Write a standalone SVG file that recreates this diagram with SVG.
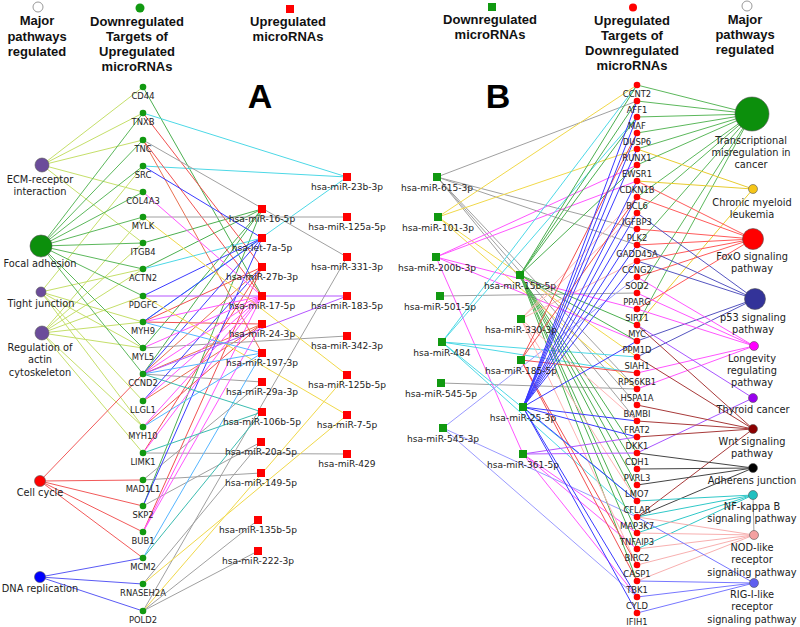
<svg xmlns="http://www.w3.org/2000/svg" width="800" height="627" viewBox="0 0 800 627">
<style>
.e{fill:none;stroke-width:1}
.yg{stroke:#c5df6a}.fa{stroke:#5cb85c}.cc{stroke:#f25a5a}.dn{stroke:#5a5af5}
.gr{stroke:#4caf50}.cy{stroke:#4dd8e6}.rd{stroke:#f05050}.gy{stroke:#a0a0a0}.bl{stroke:#3b3bff}.mg{stroke:#ff55ff}.ye{stroke:#f0d84a}.or{stroke:#e87050}.vi{stroke:#b455ff}.lb{stroke:#55b5ff}.tl{stroke:#3cbcb0}.pk{stroke:#ffb4b4}.lp{stroke:#9a9aff}
.tm{stroke:#5cb85c}.cml{stroke:#e8cc30}.fox{stroke:#ff5a5a}.p53{stroke:#5555c0}.lon{stroke:#ff55ff}.thy{stroke:#a855ff}.wnt{stroke:#a83a3a}.aj{stroke:#444}.nf{stroke:#30c8c8}.nod{stroke:#f8b0b0}.rig{stroke:#7777ff}
.h{font-family:"Liberation Sans",Arial,sans-serif;font-weight:bold;font-size:13px;fill:#111;text-anchor:middle}
.big{font-family:"Liberation Sans",Arial,sans-serif;font-weight:bold;font-size:34px;fill:#000;text-anchor:middle}
.pl{font-family:"DejaVu Sans",sans-serif;font-size:9.8px;fill:#222;text-anchor:middle}
.gl{font-family:"DejaVu Sans",sans-serif;font-size:8.4px;fill:#222;text-anchor:middle}
.ml{font-family:"DejaVu Sans",sans-serif;font-size:9.1px;fill:#222;text-anchor:middle}
.gd{fill:#119911}.rdd{fill:#ff0000}
.pc{stroke:#555;stroke-width:0.6}
</style>
<rect width="800" height="627" fill="#fff"/>
<g id="connectors">
<path class="e yg" d="M42 165L143 87M42 165L143 113M42 165L143 140M42 165L143 192M42 165L143 243M41 292L143 166M41 292L143 269M41 292L143 322M41 292L143 348M41 292L143 401M41 292L143 427M42 333L143 217M42 333L143 243M42 333L143 269M42 333L143 296M42 333L143 322M42 333L143 348M42 333L143 427M42 333L143 453"/>
<path class="e fa" d="M41 246L143 113M41 246L143 140M41 246L143 166M41 246L143 192M41 246L143 217M41 246L143 243M41 246L143 269M41 246L143 296M41 246L143 348M41 246L143 374"/>
<path class="e cc" d="M40 481L143 374M40 481L143 480M40 481L143 506M40 481L143 532M40 481L143 558"/>
<path class="e dn" d="M40 577L143 558M40 577L143 584M40 577L143 611"/>
<path class="e gr" d="M143 87L262 296M143 243L262 209M143 269L262 209M143 348L262 209M143 374L262 209M143 506L262 209"/>
<path class="e cy" d="M143 113L347 177M143 166L347 177M143 269L262 238M143 322L347 177"/>
<path class="e rd" d="M143 113L262 267M143 140L262 296M143 322L262 267M143 322L262 324M143 427L262 324M143 453L262 267M143 532L262 267"/>
<path class="e or" d="M143 140L262 353M143 374L262 267M143 374L262 324M143 401L262 324"/>
<path class="e gy" d="M143 140L347 257M143 217L347 217M143 348L347 336M143 374L262 382M143 453L347 454M143 480L261 473M143 480L262 382M143 506L261 442M143 584L261 442M143 611L258 520M143 611L258 551M143 611L347 257"/>
<path class="e bl" d="M143 166L262 238M143 296L262 238M143 322L262 238M143 374L262 238M143 401L262 267M143 506L262 238"/>
<path class="e mg" d="M143 192L262 296M143 322L262 296M143 348L262 296M143 374L262 296M143 401L262 296M143 427L262 296M143 453L262 296M143 532L262 296M143 532L262 324"/>
<path class="e ye" d="M143 217L347 375M143 296L347 415M143 584L347 415M143 611L347 375"/>
<path class="e vi" d="M143 296L347 296M143 374L347 296"/>
<path class="e lb" d="M143 322L262 353M143 374L262 353M143 427L262 353M143 558L262 353"/>
<path class="e tl" d="M143 374L262 412M143 453L262 412M143 558L262 412"/>
<path class="e gy" d="M437 177L637 101M437 177L637 229M437 177L637 245M437 177L637 389M437 177L637 405M437 177L637 421M440 296L637 293M441 383L637 389"/>
<path class="e ye" d="M438 217L637 85M438 217L637 149M438 217L637 357M438 217L637 389"/>
<path class="e mg" d="M436 257L637 165M436 257L637 181M436 257L637 309M436 257L637 341M436 257L523 454M523 454L637 533M523 454L637 597M523 454L637 549"/>
<path class="e cy" d="M442 342L637 85M442 342L637 117M442 342L637 357M442 342L637 373M442 342L637 501M442 342L637 517"/>
<path class="e lp" d="M443 428L637 277M443 428L637 517M443 428L637 597"/>
<path class="e gr" d="M520 275L637 85M520 275L637 101M520 275L637 117M520 275L637 165M520 275L637 325M520 275L637 341M520 275L637 453M520 275L637 469M520 275L637 485M520 275L637 501M520 275L637 533M520 275L637 549M520 275L637 581"/>
<path class="e pk" d="M521 319L637 197M521 319L637 213M521 319L637 261M521 319L637 421M521 319L637 501M521 319L637 565"/>
<path class="e rd" d="M521 360L637 133M521 360L637 197M521 360L637 373M521 360L637 565M521 360L637 581"/>
<path class="e bl" d="M523 407L637 101M523 407L637 117M523 407L637 133M523 407L637 149M523 407L637 181M523 407L637 197M523 407L637 213M523 407L637 229M523 407L637 245M523 407L637 261M523 407L637 341M523 407L637 421M523 407L637 437M523 407L637 501M523 407L637 597M523 407L637 613"/>
<path class="e vi" d="M523 454L637 437M523 454L637 453"/>
<path class="e tm" d="M637 85L752 114M637 101L752 114M637 117L752 114M637 133L752 114M637 149L752 114M637 165L752 114M637 197L752 114M637 213L752 114M637 245L752 114M637 293L752 114M637 325L752 114"/>
<path class="e cml" d="M637 149L753 189M637 181L753 189M637 325L753 189"/>
<path class="e fox" d="M637 181L753 239M637 197L753 239M637 229L753 239M637 245L753 239M637 261L753 239M637 277L753 239M637 309L753 239"/>
<path class="e p53" d="M637 213L755 299M637 245L755 299M637 261L755 299M637 341L755 299M637 357L755 299"/>
<path class="e lon" d="M637 277L754 346M637 293L754 346M637 309L754 346M637 373L754 346M637 389L754 346"/>
<path class="e thy" d="M637 325L753 398M637 453L753 398"/>
<path class="e wnt" d="M637 325L753 429M637 357L753 429M637 405L753 429M637 421L753 429M637 437L753 429M637 517L753 429"/>
<path class="e aj" d="M637 453L753 468M637 469L753 468M637 485L753 468M637 517L753 468"/>
<path class="e nf" d="M637 501L753 495M637 517L753 495M637 533L753 495M637 549L753 495"/>
<path class="e nod" d="M637 517L754 535M637 533L754 535M637 549L754 535M637 565L754 535M637 581L754 535"/>
<path class="e rig" d="M637 517L754 583M637 581L754 583M637 597L754 583M637 613L754 583"/>
<path class="e gy" d="M753 495L754 535"/>
</g>
<g id="legend">
<circle cx="38" cy="7" r="5" fill="#fff" stroke="#999"/>
<text class="h" x="37" y="25">Major</text><text class="h" x="37" y="40.5">pathways</text><text class="h" x="37" y="56">regulated</text>
<circle cx="140" cy="8" r="4.5" fill="#119911"/>
<text class="h" x="137" y="25.5">Downregulated</text><text class="h" x="137" y="40.5">Targets of</text><text class="h" x="137" y="56">Upregulated</text><text class="h" x="137" y="71">microRNAs</text>
<rect x="286" y="5" width="8" height="8" fill="#ff0000"/>
<text class="h" x="288" y="25.5">Upregulated</text><text class="h" x="288" y="40.5">microRNAs</text>
<text class="big" x="260" y="108">A</text>
<text class="big" x="498" y="108">B</text>
<rect x="488" y="3" width="8" height="8" fill="#119911"/>
<text class="h" x="490" y="23.5">Downregulated</text><text class="h" x="490" y="38.5">microRNAs</text>
<circle cx="633" cy="7.5" r="4" fill="#ff0000"/>
<text class="h" x="632" y="25">Upregulated</text><text class="h" x="632" y="40">Targets of</text><text class="h" x="632" y="55">Downregulated</text><text class="h" x="632" y="70">microRNAs</text>
<circle cx="747" cy="6" r="5" fill="#fff" stroke="#999"/>
<text class="h" x="745" y="24">Major</text><text class="h" x="745" y="39">pathways</text><text class="h" x="745" y="54">regulated</text>
</g>
<g id="pw-ecm"><circle class="pc" cx="42" cy="165" r="7" fill="#6b4c9a"/><text class="pl" x="40" y="182.5">ECM-receptor</text><text class="pl" x="40" y="195">interaction</text></g>
<g id="pw-focal"><circle class="pc" cx="41" cy="246" r="11" fill="#0c8f0c"/><text class="pl" x="40" y="266.5">Focal adhesion</text></g>
<g id="pw-tight"><circle class="pc" cx="41" cy="292" r="5" fill="#6b4c9a"/><text class="pl" x="41" y="306.5">Tight junction</text></g>
<g id="pw-actin"><circle class="pc" cx="42" cy="333" r="7" fill="#6b4c9a"/><text class="pl" x="40" y="350.5">Regulation of</text><text class="pl" x="40" y="363">actin</text><text class="pl" x="40" y="375.5">cytoskeleton</text></g>
<g id="pw-cellcycle"><circle class="pc" cx="40" cy="481" r="5.5" fill="#ff0000"/><text class="pl" x="40" y="495.5">Cell cycle</text></g>
<g id="pw-dna"><circle class="pc" cx="40" cy="577" r="5.5" fill="#0000ff"/><text class="pl" x="40" y="591.5">DNA replication</text></g>
<g id="gA-CD44"><circle class="gd" cx="143" cy="87" r="3.3"/><text class="gl" x="143" y="98.5">CD44</text></g>
<g id="gA-TNXB"><circle class="gd" cx="143" cy="113" r="3.3"/><text class="gl" x="143" y="124.5">TNXB</text></g>
<g id="gA-TNC"><circle class="gd" cx="143" cy="140" r="3.3"/><text class="gl" x="143" y="151.5">TNC</text></g>
<g id="gA-SRC"><circle class="gd" cx="143" cy="166" r="3.3"/><text class="gl" x="143" y="177.5">SRC</text></g>
<g id="gA-COL4A3"><circle class="gd" cx="143" cy="192" r="3.3"/><text class="gl" x="143" y="203.5">COL4A3</text></g>
<g id="gA-MYLK"><circle class="gd" cx="143" cy="217" r="3.3"/><text class="gl" x="143" y="228.5">MYLK</text></g>
<g id="gA-ITGB4"><circle class="gd" cx="143" cy="243" r="3.3"/><text class="gl" x="143" y="254.5">ITGB4</text></g>
<g id="gA-ACTN2"><circle class="gd" cx="143" cy="269" r="3.3"/><text class="gl" x="143" y="280.5">ACTN2</text></g>
<g id="gA-PDGFC"><circle class="gd" cx="143" cy="296" r="3.3"/><text class="gl" x="143" y="307.5">PDGFC</text></g>
<g id="gA-MYH9"><circle class="gd" cx="143" cy="322" r="3.3"/><text class="gl" x="143" y="333.5">MYH9</text></g>
<g id="gA-MYL5"><circle class="gd" cx="143" cy="348" r="3.3"/><text class="gl" x="143" y="359.5">MYL5</text></g>
<g id="gA-CCND2"><circle class="gd" cx="143" cy="374" r="3.3"/><text class="gl" x="143" y="385.5">CCND2</text></g>
<g id="gA-LLGL1"><circle class="gd" cx="143" cy="401" r="3.3"/><text class="gl" x="143" y="412.5">LLGL1</text></g>
<g id="gA-MYH10"><circle class="gd" cx="143" cy="427" r="3.3"/><text class="gl" x="143" y="438.5">MYH10</text></g>
<g id="gA-LIMK1"><circle class="gd" cx="143" cy="453" r="3.3"/><text class="gl" x="143" y="464.5">LIMK1</text></g>
<g id="gA-MAD1L1"><circle class="gd" cx="143" cy="480" r="3.3"/><text class="gl" x="143" y="491.5">MAD1L1</text></g>
<g id="gA-SKP2"><circle class="gd" cx="143" cy="506" r="3.3"/><text class="gl" x="143" y="517.5">SKP2</text></g>
<g id="gA-BUB1"><circle class="gd" cx="143" cy="532" r="3.3"/><text class="gl" x="143" y="543.5">BUB1</text></g>
<g id="gA-MCM2"><circle class="gd" cx="143" cy="558" r="3.3"/><text class="gl" x="143" y="569.5">MCM2</text></g>
<g id="gA-RNASEH2A"><circle class="gd" cx="143" cy="584" r="3.3"/><text class="gl" x="143" y="595.5">RNASEH2A</text></g>
<g id="gA-POLD2"><circle class="gd" cx="143" cy="611" r="3.3"/><text class="gl" x="143" y="622.5">POLD2</text></g>
<g id="mA-16-5p"><rect class="rdd" x="258" y="205" width="8" height="8"/><text class="ml" x="262" y="222">hsa-miR-16-5p</text></g>
<g id="mA-let-7a-5p"><rect class="rdd" x="258" y="234" width="8" height="8"/><text class="ml" x="262" y="251">hsa-let-7a-5p</text></g>
<g id="mA-27b-3p"><rect class="rdd" x="258" y="263" width="8" height="8"/><text class="ml" x="262" y="280">hsa-miR-27b-3p</text></g>
<g id="mA-17-5p"><rect class="rdd" x="258" y="292" width="8" height="8"/><text class="ml" x="262" y="309">hsa-miR-17-5p</text></g>
<g id="mA-24-3p"><rect class="rdd" x="258" y="320" width="8" height="8"/><text class="ml" x="262" y="337">hsa-miR-24-3p</text></g>
<g id="mA-197-3p"><rect class="rdd" x="258" y="349" width="8" height="8"/><text class="ml" x="262" y="366">hsa-miR-197-3p</text></g>
<g id="mA-29a-3p"><rect class="rdd" x="258" y="378" width="8" height="8"/><text class="ml" x="262" y="395">hsa-miR-29a-3p</text></g>
<g id="mA-106b-5p"><rect class="rdd" x="258" y="408" width="8" height="8"/><text class="ml" x="262" y="425">hsa-miR-106b-5p</text></g>
<g id="mA-20a-5p"><rect class="rdd" x="257" y="438" width="8" height="8"/><text class="ml" x="261" y="455">hsa-miR-20a-5p</text></g>
<g id="mA-149-5p"><rect class="rdd" x="257" y="469" width="8" height="8"/><text class="ml" x="261" y="486">hsa-miR-149-5p</text></g>
<g id="mA-135b-5p"><rect class="rdd" x="254" y="516" width="8" height="8"/><text class="ml" x="258" y="533">hsa-miR-135b-5p</text></g>
<g id="mA-222-3p"><rect class="rdd" x="254" y="547" width="8" height="8"/><text class="ml" x="258" y="564">hsa-miR-222-3p</text></g>
<g id="mA-23b-3p"><rect class="rdd" x="343" y="173" width="8" height="8"/><text class="ml" x="347" y="190">hsa-miR-23b-3p</text></g>
<g id="mA-125a-5p"><rect class="rdd" x="343" y="213" width="8" height="8"/><text class="ml" x="347" y="230">hsa-miR-125a-5p</text></g>
<g id="mA-331-3p"><rect class="rdd" x="343" y="253" width="8" height="8"/><text class="ml" x="347" y="270">hsa-miR-331-3p</text></g>
<g id="mA-183-5p"><rect class="rdd" x="343" y="292" width="8" height="8"/><text class="ml" x="347" y="309">hsa-miR-183-5p</text></g>
<g id="mA-342-3p"><rect class="rdd" x="343" y="332" width="8" height="8"/><text class="ml" x="347" y="349">hsa-miR-342-3p</text></g>
<g id="mA-125b-5p"><rect class="rdd" x="343" y="371" width="8" height="8"/><text class="ml" x="347" y="388">hsa-miR-125b-5p</text></g>
<g id="mA-7-5p"><rect class="rdd" x="343" y="411" width="8" height="8"/><text class="ml" x="347" y="428">hsa-miR-7-5p</text></g>
<g id="mA-429"><rect class="rdd" x="343" y="450" width="8" height="8"/><text class="ml" x="347" y="467">hsa-miR-429</text></g>
<g id="mB-615-3p"><rect class="gd" x="433" y="173" width="8" height="8"/><text class="ml" x="437" y="190.5">hsa-miR-615-3p</text></g>
<g id="mB-101-3p"><rect class="gd" x="434" y="213" width="8" height="8"/><text class="ml" x="438" y="230.5">hsa-miR-101-3p</text></g>
<g id="mB-200b-3p"><rect class="gd" x="432" y="253" width="8" height="8"/><text class="ml" x="437" y="270.5">hsa-miR-200b-3p</text></g>
<g id="mB-501-5p"><rect class="gd" x="436" y="292" width="8" height="8"/><text class="ml" x="440" y="309.5">hsa-miR-501-5p</text></g>
<g id="mB-484"><rect class="gd" x="438" y="338" width="8" height="8"/><text class="ml" x="442" y="355.5">hsa-miR-484</text></g>
<g id="mB-545-5p"><rect class="gd" x="437" y="379" width="8" height="8"/><text class="ml" x="441" y="396.5">hsa-miR-545-5p</text></g>
<g id="mB-545-3p"><rect class="gd" x="439" y="424" width="8" height="8"/><text class="ml" x="443" y="441.5">hsa-miR-545-3p</text></g>
<g id="mB-15b-5p"><rect class="gd" x="516" y="271" width="8" height="8"/><text class="ml" x="520" y="288.5">hsa-miR-15b-5p</text></g>
<g id="mB-330-3p"><rect class="gd" x="517" y="315" width="8" height="8"/><text class="ml" x="521" y="332.5">hsa-miR-330-3p</text></g>
<g id="mB-185-5p"><rect class="gd" x="517" y="356" width="8" height="8"/><text class="ml" x="521" y="373.5">hsa-miR-185-5p</text></g>
<g id="mB-25-3p"><rect class="gd" x="519" y="403" width="8" height="8"/><text class="ml" x="523" y="420.5">hsa-miR-25-3p</text></g>
<g id="mB-361-5p"><rect class="gd" x="519" y="450" width="8" height="8"/><text class="ml" x="523" y="467.5">hsa-miR-361-5p</text></g>
<g id="gB-CCNT2"><circle class="rdd" cx="637" cy="85" r="3.3"/><text class="gl" x="637" y="96.5">CCNT2</text></g>
<g id="gB-AFF1"><circle class="rdd" cx="637" cy="101" r="3.3"/><text class="gl" x="637" y="112.5">AFF1</text></g>
<g id="gB-MAF"><circle class="rdd" cx="637" cy="117" r="3.3"/><text class="gl" x="637" y="128.5">MAF</text></g>
<g id="gB-DUSP6"><circle class="rdd" cx="637" cy="133" r="3.3"/><text class="gl" x="637" y="144.5">DUSP6</text></g>
<g id="gB-RUNX1"><circle class="rdd" cx="637" cy="149" r="3.3"/><text class="gl" x="637" y="160.5">RUNX1</text></g>
<g id="gB-EWSR1"><circle class="rdd" cx="637" cy="165" r="3.3"/><text class="gl" x="637" y="176.5">EWSR1</text></g>
<g id="gB-CDKN1B"><circle class="rdd" cx="637" cy="181" r="3.3"/><text class="gl" x="637" y="192.5">CDKN1B</text></g>
<g id="gB-BCL6"><circle class="rdd" cx="637" cy="197" r="3.3"/><text class="gl" x="637" y="208.5">BCL6</text></g>
<g id="gB-IGFBP3"><circle class="rdd" cx="637" cy="213" r="3.3"/><text class="gl" x="637" y="224.5">IGFBP3</text></g>
<g id="gB-PLK2"><circle class="rdd" cx="637" cy="229" r="3.3"/><text class="gl" x="637" y="240.5">PLK2</text></g>
<g id="gB-GADD45A"><circle class="rdd" cx="637" cy="245" r="3.3"/><text class="gl" x="637" y="256.5">GADD45A</text></g>
<g id="gB-CCNG2"><circle class="rdd" cx="637" cy="261" r="3.3"/><text class="gl" x="637" y="272.5">CCNG2</text></g>
<g id="gB-SOD2"><circle class="rdd" cx="637" cy="277" r="3.3"/><text class="gl" x="637" y="288.5">SOD2</text></g>
<g id="gB-PPARG"><circle class="rdd" cx="637" cy="293" r="3.3"/><text class="gl" x="637" y="304.5">PPARG</text></g>
<g id="gB-SIRT1"><circle class="rdd" cx="637" cy="309" r="3.3"/><text class="gl" x="637" y="320.5">SIRT1</text></g>
<g id="gB-MYC"><circle class="rdd" cx="637" cy="325" r="3.3"/><text class="gl" x="637" y="336.5">MYC</text></g>
<g id="gB-PPM1D"><circle class="rdd" cx="637" cy="341" r="3.3"/><text class="gl" x="637" y="352.5">PPM1D</text></g>
<g id="gB-SIAH1"><circle class="rdd" cx="637" cy="357" r="3.3"/><text class="gl" x="637" y="368.5">SIAH1</text></g>
<g id="gB-RPS6KB1"><circle class="rdd" cx="637" cy="373" r="3.3"/><text class="gl" x="637" y="384.5">RPS6KB1</text></g>
<g id="gB-HSPA1A"><circle class="rdd" cx="637" cy="389" r="3.3"/><text class="gl" x="637" y="400.5">HSPA1A</text></g>
<g id="gB-BAMBI"><circle class="rdd" cx="637" cy="405" r="3.3"/><text class="gl" x="637" y="416.5">BAMBI</text></g>
<g id="gB-FRAT2"><circle class="rdd" cx="637" cy="421" r="3.3"/><text class="gl" x="637" y="432.5">FRAT2</text></g>
<g id="gB-DKK1"><circle class="rdd" cx="637" cy="437" r="3.3"/><text class="gl" x="637" y="448.5">DKK1</text></g>
<g id="gB-CDH1"><circle class="rdd" cx="637" cy="453" r="3.3"/><text class="gl" x="637" y="464.5">CDH1</text></g>
<g id="gB-PVRL3"><circle class="rdd" cx="637" cy="469" r="3.3"/><text class="gl" x="637" y="480.5">PVRL3</text></g>
<g id="gB-LMO7"><circle class="rdd" cx="637" cy="485" r="3.3"/><text class="gl" x="637" y="496.5">LMO7</text></g>
<g id="gB-CFLAR"><circle class="rdd" cx="637" cy="501" r="3.3"/><text class="gl" x="637" y="512.5">CFLAR</text></g>
<g id="gB-MAP3K7"><circle class="rdd" cx="637" cy="517" r="3.3"/><text class="gl" x="637" y="528.5">MAP3K7</text></g>
<g id="gB-TNFAIP3"><circle class="rdd" cx="637" cy="533" r="3.3"/><text class="gl" x="637" y="544.5">TNFAIP3</text></g>
<g id="gB-BIRC2"><circle class="rdd" cx="637" cy="549" r="3.3"/><text class="gl" x="637" y="560.5">BIRC2</text></g>
<g id="gB-CASP1"><circle class="rdd" cx="637" cy="565" r="3.3"/><text class="gl" x="637" y="576.5">CASP1</text></g>
<g id="gB-TBK1"><circle class="rdd" cx="637" cy="581" r="3.3"/><text class="gl" x="637" y="592.5">TBK1</text></g>
<g id="gB-CYLD"><circle class="rdd" cx="637" cy="597" r="3.3"/><text class="gl" x="637" y="608.5">CYLD</text></g>
<g id="gB-IFIH1"><circle class="rdd" cx="637" cy="613" r="3.3"/><text class="gl" x="637" y="624.5">IFIH1</text></g>
<g id="pw-transcr"><circle class="pc" cx="752" cy="114" r="17" fill="#0c8f0c"/><text class="pl" x="751" y="143.5">Transcriptional</text><text class="pl" x="751" y="155.5">misregulation in</text><text class="pl" x="751" y="167.5">cancer</text></g>
<g id="pw-cml"><circle class="pc" cx="753" cy="189" r="4.5" fill="#f5c518"/><text class="pl" x="752" y="205.5">Chronic myeloid</text><text class="pl" x="752" y="217.5">leukemia</text></g>
<g id="pw-foxo"><circle class="pc" cx="753" cy="239" r="10.5" fill="#ff0000"/><text class="pl" x="752" y="259.5">FoxO signaling</text><text class="pl" x="752" y="272">pathway</text></g>
<g id="pw-p53"><circle class="pc" cx="755" cy="299" r="10.5" fill="#333399"/><text class="pl" x="753" y="320.5">p53 signaling</text><text class="pl" x="753" y="332.5">pathway</text></g>
<g id="pw-longevity"><circle class="pc" cx="754" cy="346" r="4.5" fill="#ff00ff"/><text class="pl" x="752" y="362">Longevity</text><text class="pl" x="752" y="374">regulating</text><text class="pl" x="752" y="386">pathway</text></g>
<g id="pw-thyroid"><circle class="pc" cx="753" cy="398" r="4.5" fill="#9900ee"/><text class="pl" x="753" y="412.5">Thyroid cancer</text></g>
<g id="pw-wnt"><circle class="pc" cx="753" cy="429" r="4.5" fill="#8b0000"/><text class="pl" x="752" y="444.5">Wnt signaling</text><text class="pl" x="752" y="456.5">pathway</text></g>
<g id="pw-adherens"><circle class="pc" cx="753" cy="468" r="4.5" fill="#000"/><text class="pl" x="752" y="483.5">Adherens junction</text></g>
<g id="pw-nfkb"><circle class="pc" cx="753" cy="495" r="4.5" fill="#20c0c0"/><text class="pl" x="752" y="509.5">NF-kappa B</text><text class="pl" x="752" y="521.5">signaling pathway</text></g>
<g id="pw-nod"><circle class="pc" cx="754" cy="535" r="4.5" fill="#f4a0a0"/><text class="pl" x="752" y="550.5">NOD-like</text><text class="pl" x="752" y="563">receptor</text><text class="pl" x="752" y="575.5">signaling pathway</text></g>
<g id="pw-rig"><circle class="pc" cx="754" cy="583" r="4.5" fill="#6060f0"/><text class="pl" x="752" y="597.5">RIG-I-like</text><text class="pl" x="752" y="610">receptor</text><text class="pl" x="752" y="622.5">signaling pathway</text></g>
</svg>
